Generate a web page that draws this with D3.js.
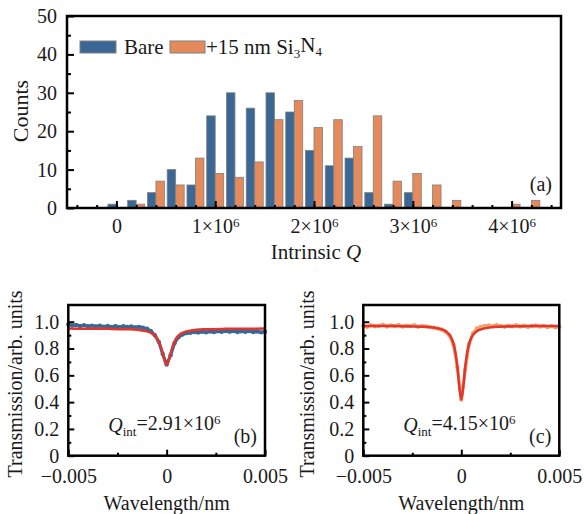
<!DOCTYPE html>
<meta charset="utf-8">
<style>
body { margin: 0; background: #fff; }
text { font-family: "Liberation Serif", "Times New Roman", serif; fill: #1a1a1a; }
.frame { fill: none; stroke: #000; stroke-width: 2.5; }
.tick line { stroke: #000; stroke-width: 2; }
</style>
<body>
<script src="https://cdn.jsdelivr.net/npm/d3@7/dist/d3.min.js"></script>
<script>

var width = 587,
    height = 514;

// histogram (a): bin centres (x1e6) and counts
var binCenters = [0, 0.2, 0.4, 0.6, 0.8, 1.0, 1.2, 1.4, 1.6, 1.8, 2.0, 2.2, 2.4, 2.6, 2.8, 3.0, 3.2, 3.4, 3.6, 3.8, 4.0, 4.2];
var bareCounts = [1, 2, 4, 10, 6, 24, 30, 26, 30, 25, 15, 11, 13, 4, 1, 4, 0, 0, 0, 0, 0, 0];
var coatedCounts = [0, 1, 7, 6, 13, 9, 8, 12, 23, 28, 21, 23, 16, 24, 7, 9, 6, 2, 0, 0, 1, 2];
var seriesNames = ["Bare", "+15 nm Si3N4"];
var countTicks = [0, 10, 20, 30, 40, 50];
var qTicks = [0, 1, 2, 3, 4];

// transmission spectra (b) and (c): wavelength offset in 1e-3 nm
var specX = [-5.0, -4.8, -4.6, -4.4, -4.2, -4.0, -3.8, -3.6, -3.4, -3.2, -3.0, -2.8, -2.6, -2.4, -2.2, -2.0, -1.8, -1.6, -1.4, -1.2, -1.0,
             -0.8, -0.6, -0.4, -0.2, 0.0, 0.2, 0.4, 0.6, 0.8, 1.0, 1.2, 1.4, 1.6, 1.8, 2.0, 2.2, 2.4, 2.6, 2.8, 3.0,
             3.2, 3.4, 3.6, 3.8, 4.0, 4.2, 4.4, 4.6, 4.8, 5.0];
var bareSpec = [0.980, 0.972, 0.976, 0.968, 0.974, 0.966, 0.971, 0.965, 0.970, 0.963, 0.968, 0.962, 0.967, 0.960, 0.966, 0.961, 0.964, 0.958, 0.962, 0.955, 0.948,
                0.930, 0.900, 0.850, 0.760, 0.680, 0.750, 0.840, 0.885, 0.905, 0.915, 0.918, 0.924, 0.920, 0.926, 0.922, 0.928, 0.923, 0.929, 0.925, 0.931,
                0.926, 0.930, 0.924, 0.929, 0.925, 0.930, 0.923, 0.928, 0.921, 0.926];
var coatedSpec = [0.972, 0.962, 0.975, 0.966, 0.970, 0.978, 0.965, 0.973, 0.967, 0.976, 0.964, 0.971, 0.968, 0.975, 0.963, 0.969, 0.965, 0.960, 0.956, 0.950, 0.942,
                  0.925, 0.895, 0.830, 0.660, 0.420, 0.640, 0.835, 0.915, 0.950, 0.962, 0.968, 0.972, 0.966, 0.975, 0.969, 0.963, 0.971, 0.966, 0.974, 0.965,
                  0.970, 0.962, 0.968, 0.972, 0.964, 0.969, 0.961, 0.967, 0.958, 0.964];
var fitX = [-5, -4, -3, -2, -1.5, -1, -0.8, -0.6, -0.45, -0.3, -0.2, -0.1, 0, 0.1, 0.2, 0.3, 0.45, 0.6, 0.8, 1, 1.5, 2, 3, 4, 5];
var bareFit = [0.949, 0.948, 0.947, 0.944, 0.940, 0.928, 0.917, 0.896, 0.867, 0.815, 0.763, 0.707, 0.680, 0.707, 0.763, 0.815, 0.867, 0.896, 0.917, 0.928, 0.940, 0.944, 0.947, 0.948, 0.949];
var coatedFit = [0.969, 0.968, 0.967, 0.963, 0.958, 0.943, 0.930, 0.902, 0.860, 0.772, 0.663, 0.511, 0.420, 0.511, 0.663, 0.772, 0.860, 0.902, 0.930, 0.943, 0.958, 0.963, 0.967, 0.968, 0.969];
var transTicks = [0, 0.2, 0.4, 0.6, 0.8, 1.0];
var waveTicks = [-0.005, 0, 0.005];
var qInt = ["2.91", "4.15"];

var blue = "#3b6795",
    orange = "#e58a5b",
    orangeLight = "#efa36f",
    red = "#e2352b";

var svg = d3.select("body").append("svg")
    .attr("width", width)
    .attr("height", height);

// ---------- (a) histogram ----------
var x = d3.scaleLinear().domain([-0.5e6, 4.5e6]).range([67, 561]);
var y = d3.scaleLinear().domain([0, 50]).range([208, 16]);
var barW = 0.43 * (x(0.2e6) - x(0));

var panelA = svg.append("g");

panelA.selectAll(".bare")
    .data(binCenters.map(function(c, i) { return {c: c * 1e6, v: bareCounts[i]}; }))
  .enter().append("rect")
    .attr("x", function(d) { return x(d.c) - barW; })
    .attr("y", function(d) { return y(d.v); })
    .attr("width", barW)
    .attr("height", function(d) { return y(0) - y(d.v); })
    .attr("fill", blue)
    .attr("stroke", "#808080")
    .attr("stroke-width", 0.8);

panelA.selectAll(".coated")
    .data(binCenters.map(function(c, i) { return {c: c * 1e6, v: coatedCounts[i]}; }))
  .enter().append("rect")
    .attr("x", function(d) { return x(d.c); })
    .attr("y", function(d) { return y(d.v); })
    .attr("width", barW)
    .attr("height", function(d) { return y(0) - y(d.v); })
    .attr("fill", orange)
    .attr("stroke", "#808080")
    .attr("stroke-width", 0.8);

// minor ticks
panelA.append("g")
    .attr("transform", "translate(0,208)")
    .call(d3.axisBottom(x).tickValues(d3.range(-0.4e6, 4.5e6, 0.2e6)).tickSizeInner(-3).tickSizeOuter(0).tickFormat(""))
    .call(function(g) { g.select(".domain").remove(); });
panelA.append("g")
    .attr("transform", "translate(67,0)")
    .call(d3.axisLeft(y).tickValues(d3.range(5, 50, 10)).tickSizeInner(-4).tickSizeOuter(0).tickFormat(""))
    .call(function(g) { g.select(".domain").remove(); });

var xAxisA = panelA.append("g")
    .attr("transform", "translate(0,208)")
    .call(d3.axisBottom(x).tickValues(qTicks.map(function(d) { return d * 1e6; }))
      .tickSizeInner(-7).tickSizeOuter(0).tickPadding(11))
    .call(function(g) { g.select(".domain").remove(); });
xAxisA.selectAll("text")
    .style("font-size", "20px")
    .each(function(d) {
      var t = d3.select(this).text("");
      if (d === 0) { t.text("0"); return; }
      t.append("tspan").text((d / 1e6) + "×10");
      t.append("tspan").attr("dy", "-0.45em").style("font-size", "13px").text("6");
    });

panelA.append("g")
    .attr("transform", "translate(67,0)")
    .call(d3.axisLeft(y).tickValues(countTicks).tickSizeInner(-7).tickSizeOuter(0).tickPadding(10))
    .call(function(g) { g.select(".domain").remove(); })
    .selectAll("text").style("font-size", "20px");

panelA.append("rect").attr("class", "frame")
    .attr("x", 67).attr("y", 16).attr("width", 494).attr("height", 192);

panelA.append("text")
    .attr("transform", "translate(28,111) rotate(-90)")
    .attr("text-anchor", "middle")
    .style("font-size", "22px")
    .text("Counts");

var xl = panelA.append("text")
    .attr("x", 316).attr("y", 259)
    .attr("text-anchor", "middle")
    .style("font-size", "21px");
xl.append("tspan").text("Intrinsic ");
xl.append("tspan").style("font-style", "italic").text("Q");

panelA.append("text")
    .attr("x", 552).attr("y", 191)
    .attr("text-anchor", "end")
    .style("font-size", "20px")
    .text("(a)");

// legend
panelA.append("rect").attr("x", 80).attr("y", 41).attr("width", 36).attr("height", 12)
    .attr("fill", blue).attr("stroke", "#808080");
panelA.append("text").attr("x", 124).attr("y", 54).style("font-size", "21px").text(seriesNames[0]);
panelA.append("rect").attr("x", 170).attr("y", 41).attr("width", 35).attr("height", 12)
    .attr("fill", orange).attr("stroke", "#808080");
var lg = panelA.append("text").attr("x", 206).attr("y", 54).style("font-size", "21px");
lg.append("tspan").text("+15 nm Si");
lg.append("tspan").attr("dy", "0.3em").style("font-size", "13px").text("3");
lg.append("tspan").attr("dy", "-0.3em").text("N");
lg.append("tspan").attr("dy", "0.3em").style("font-size", "13px").text("4");

// ---------- (b), (c) spectra ----------
function spectrum(x0, x1, yLabelX, data, fit, dataColor, q, tag) {
  var sx = d3.scaleLinear().domain([-0.005, 0.005]).range([x0, x1]);
  var sy = d3.scaleLinear().domain([0, 1.125]).range([455.7, 305]);
  var g = svg.append("g");

  var pts = specX.map(function(v, i) { return [v * 1e-3, data[i]]; });
  var line = d3.line()
      .x(function(d) { return sx(d[0]); })
      .y(function(d) { return sy(d[1]); });

  g.append("path")
      .datum(pts)
      .attr("d", line)
      .attr("fill", "none")
      .attr("stroke", dataColor)
      .attr("stroke-width", 3.2)
      .attr("stroke-linejoin", "round");
  g.selectAll(".pt")
      .data(pts)
    .enter().append("circle")
      .attr("cx", function(d) { return sx(d[0]); })
      .attr("cy", function(d) { return sy(d[1]); })
      .attr("r", 2.2)
      .attr("fill", dataColor);

  g.append("path")
      .datum(fitX.map(function(v, i) { return [v * 1e-3, fit[i]]; }))
      .attr("d", line.curve(d3.curveMonotoneX))
      .attr("fill", "none")
      .attr("stroke", red)
      .attr("stroke-width", 2.5);

  g.append("g")
      .attr("transform", "translate(0,455.7)")
      .call(d3.axisBottom(sx).tickValues([-0.0025, 0.0025]).tickSizeInner(-3).tickSizeOuter(0).tickFormat(""))
      .call(function(a) { a.select(".domain").remove(); });
  g.append("g")
      .attr("transform", "translate(" + x0 + ",0)")
      .call(d3.axisLeft(sy).tickValues(d3.range(0.1, 1.1, 0.2)).tickSizeInner(-3).tickSizeOuter(0).tickFormat(""))
      .call(function(a) { a.select(".domain").remove(); });

  g.append("g")
      .attr("transform", "translate(0,455.7)")
      .call(d3.axisBottom(sx).tickValues(waveTicks).tickSizeInner(-6).tickSizeOuter(0).tickPadding(13)
        .tickFormat(function(d) { return d === 0 ? "0" : (d < 0 ? "\u2212" : "") + Math.abs(d).toFixed(3); }))
      .call(function(a) { a.select(".domain").remove(); })
      .selectAll("text").style("font-size", "20px");
  g.append("g")
      .attr("transform", "translate(" + x0 + ",0)")
      .call(d3.axisLeft(sy).tickValues(transTicks).tickSizeInner(-6).tickSizeOuter(0).tickPadding(9)
        .tickFormat(function(d) { return d === 0 ? "0" : d.toFixed(1); }))
      .call(function(a) { a.select(".domain").remove(); })
      .selectAll("text").style("font-size", "20px");

  g.append("rect").attr("class", "frame")
      .attr("x", x0).attr("y", 305).attr("width", x1 - x0).attr("height", 150.7);

  g.append("text")
      .attr("transform", "translate(" + yLabelX + ",384) rotate(-90)")
      .attr("text-anchor", "middle")
      .style("font-size", "20px")
      .text("Transmission/arb. units");

  g.append("text")
      .attr("x", (x0 + x1) / 2).attr("y", 510)
      .attr("text-anchor", "middle")
      .style("font-size", "20px")
      .text("Wavelength/nm");

  var qt = g.append("text")
      .attr("x", x0 + 40).attr("y", 432)
      .style("font-size", "20px");
  qt.append("tspan").style("font-style", "italic").text("Q");
  qt.append("tspan").attr("dy", "0.3em").style("font-size", "13px").text("int");
  qt.append("tspan").attr("dy", "-0.3em").text("=" + q + "×10");
  qt.append("tspan").attr("dy", "-0.45em").style("font-size", "13px").text("6");

  g.append("text")
      .attr("x", x1 - 8).attr("y", 443)
      .attr("text-anchor", "end")
      .style("font-size", "20px")
      .text(tag);
}

spectrum(68.3, 265, 22, bareSpec, bareFit, blue, qInt[0], "(b)");
spectrum(363.3, 559.3, 314, coatedSpec, coatedFit, orangeLight, qInt[1], "(c)");

</script>
